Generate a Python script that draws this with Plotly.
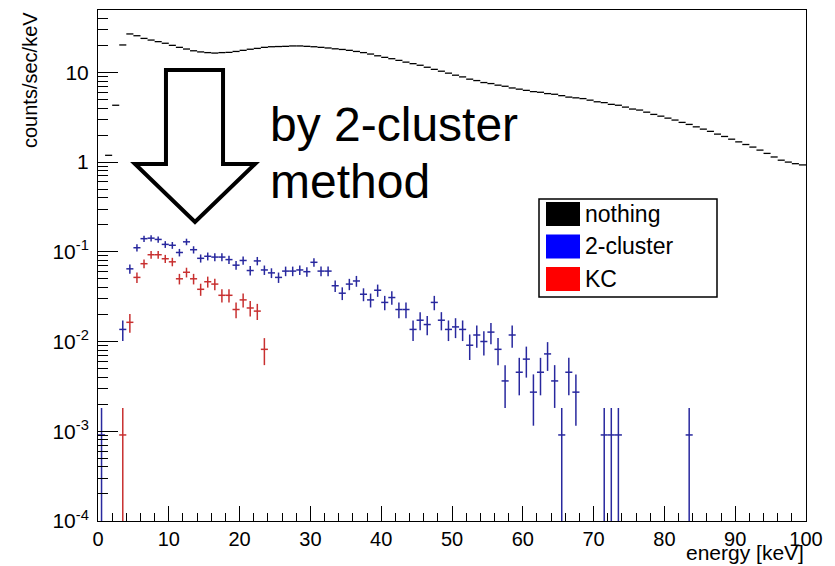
import numpy as np
import plotly.graph_objects as go

# page body has an 8px margin, so the figure is drawn at (8, 8) in the window
OFF = 8
W, H = 827, 558
ML, MR, MT, MB = 90, 29, 2, 45

# 100 bins of 1 keV, 0..100 keV
bin_centers = np.arange(100) + 0.5

# "nothing" spectrum, counts/sec/keV (None = not drawn)
nothing = [None, 1.19, 4.3, 20.2, 26.8, 25.6, 23.9, 22.9, 22.0, 21.1,
           20.0, 19.0, 18.2, 17.4, 16.9, 16.6, 16.4, 16.6, 16.7, 17.1,
           17.6, 18.1, 18.5, 19.0, 19.3, 19.4, 19.5, 19.7, 19.7, 19.5,
           19.3, 19.0, 18.7, 18.3, 18.0, 17.6, 17.1, 16.6, 16.0, 15.3,
           14.7, 14.2, 13.6, 13.0, 12.5, 12.0, 11.4, 10.8, 10.3, 9.8,
           9.3, 8.9, 8.4, 8.1, 7.7, 7.5, 7.2, 7.0, 6.7, 6.5,
           6.3, 6.1, 6.0, 5.8, 5.7, 5.5, 5.3, 5.2, 5.1, 4.9,
           4.7, 4.6, 4.4, 4.3, 4.1, 3.9, 3.8, 3.6, 3.4, 3.25,
           3.09, 2.94, 2.77, 2.63, 2.47, 2.33, 2.20, 2.05, 1.93, 1.80,
           1.68, 1.57, 1.47, 1.36, 1.25, 1.14, 1.05, 1.0, 0.96, 0.93]

# event counts per bin for the selected spectra
counts_2cluster = [1, 0, 0, 15, 71, 122, 154, 156, 151, 133,
                   130, 108, 142, 116, 93, 98, 96, 96, 90, 78,
                   88, 68, 87, 69, 64, 57, 67, 67, 69, 66,
                   84, 67, 67, 46, 38, 48, 52, 37, 32, 41,
                   30, 34, 25, 25, 15, 19, 17, 30, 19, 15,
                   16, 15, 10, 13, 11, 14, 9, 4, 13, 5,
                   7, 3, 5, 8, 4, 1, 5, 3, 0, 0,
                   0, 1, 1, 1, 0, 0, 0, 0, 0, 0,
                   0, 0, 0, 1, 0, 0, 0, 0, 0, 0,
                   0, 0, 0, 0, 0, 0, 0, 0, 0, 0]
counts_kc = [0, 0, 0, 1, 18, 57, 81, 102, 102, 92,
             85, 55, 65, 55, 42, 51, 48, 36, 36, 25,
             32, 26, 24, 9, 0, 0, 0, 0, 0, 0] + [0] * 70

# one count expressed in counts/sec/keV
rate_per_count = 0.00091

x_tickvals = [0, 10, 20, 30, 40, 50, 60, 70, 80, 90, 100]
y_tickvals = [1e-4, 1e-3, 1e-2, 1e-1, 1, 10]
y_ticktext = ["10<sup>-4</sup>", "10<sup>-3</sup>", "10<sup>-2</sup>",
              "10<sup>-1</sup>", "1", "10"]
legend_labels = ["nothing", "2-cluster", "KC"]
legend_colors = ["#000000", "#0000ff", "#ff0000"]

FONT = "Liberation Sans, Arial, sans-serif"
NOMARK = dict(size=2, color="rgba(0,0,0,0)")


# window pixel -> paper fraction
def px(x):
    return (x - OFF - ML) / (W - ML - MR)


def py(y):
    return (H - MB - (y - OFF)) / (H - MT - MB)


def rate_and_error(counts):
    c = np.array(counts, dtype=float)
    val = np.where(c > 0, c * rate_per_count, np.nan)
    err = np.sqrt(c) * rate_per_count
    return val, err


def spectrum(y, err, color):
    return go.Scatter(
        x=bin_centers,
        y=y,
        mode="markers",
        marker=NOMARK,
        error_x=dict(type="constant", value=0.5, width=0, thickness=1.5, color=color),
        error_y=dict(type="data", array=err, width=0, thickness=1.5, color=color),
        hoverinfo="skip",
    )


fig = go.Figure()
fig.add_trace(go.Scatter(
    x=bin_centers,
    y=nothing,
    mode="markers",
    marker=NOMARK,
    error_x=dict(type="constant", value=0.5, width=0, thickness=1.3, color="black"),
    hoverinfo="skip",
))
v2, e2 = rate_and_error(counts_2cluster)
fig.add_trace(spectrum(v2, e2, "#28289e"))
vk, ek = rate_and_error(counts_kc)
fig.add_trace(spectrum(vk, ek, "#c83030"))

minor_y = [m * 10.0 ** e for e in range(-4, 2) for m in range(2, 10) if m * 10.0 ** e < 50]

fig.update_xaxes(
    range=[0, 100], tickvals=x_tickvals, ticks="inside", ticklen=15,
    tickcolor="black", tickwidth=1,
    minor=dict(dtick=2, tick0=0, ticks="inside", ticklen=8, tickcolor="black"),
    showline=True, mirror=True, linecolor="black", linewidth=1,
    showgrid=False, zeroline=False, tickfont=dict(size=20),
    ticklabelstandoff=0,
)
fig.update_yaxes(
    type="log", range=[-4, 1.695], tickvals=y_tickvals, ticktext=y_ticktext,
    ticks="inside", ticklen=20, tickcolor="black", tickwidth=1,
    minor=dict(tickvals=minor_y, ticks="inside", ticklen=10, tickcolor="black"),
    showline=True, mirror=True, linecolor="black", linewidth=1,
    showgrid=False, zeroline=False, tickfont=dict(size=21),
    ticklabelstandoff=4,
)

# big hollow arrow
arrow = [(166, 70), (223, 70), (223, 164), (255, 164), (195, 222), (135, 164), (166, 164)]
path = "M " + " L ".join(f"{px(a):.4f},{py(b):.4f}" for a, b in arrow) + " Z"
shapes = [dict(type="path", xref="paper", yref="paper", path=path,
               line=dict(color="black", width=4), fillcolor="rgba(0,0,0,0)")]

# legend box
shapes.append(dict(type="rect", xref="paper", yref="paper",
                   x0=px(539), x1=px(717), y0=py(297), y1=py(199),
                   line=dict(color="black", width=1.5), fillcolor="white", layer="above"))
annotations = []
for i, (lab, col) in enumerate(zip(legend_labels, legend_colors)):
    top = 202 + i * 32.5
    shapes.append(dict(type="rect", xref="paper", yref="paper",
                       x0=px(546), x1=px(580), y0=py(top + 24), y1=py(top),
                       line=dict(width=0), fillcolor=col, layer="above"))
    annotations.append(dict(xref="paper", yref="paper", x=px(583), y=py(top + 12),
                            xanchor="left", yanchor="middle", showarrow=False,
                            text=lab, font=dict(size=23, family=FONT, color="black")))

annotations += [
    dict(xref="paper", yref="paper", x=px(268), y=py(124), xanchor="left",
         yanchor="middle", showarrow=False, text="by 2-cluster",
         font=dict(size=48, family=FONT, color="black")),
    dict(xref="paper", yref="paper", x=px(268), y=py(181), xanchor="left",
         yanchor="middle", showarrow=False, text="method",
         font=dict(size=48, family=FONT, color="black")),
    dict(xref="paper", yref="paper", x=1.0, y=py(552), xanchor="right",
         yanchor="middle", showarrow=False, text="energy [keV]",
         font=dict(size=21, family=FONT, color="black")),
    dict(xref="paper", yref="paper", x=px(30), y=py(10), xanchor="center",
         yanchor="top", showarrow=False, text="counts/sec/keV", textangle=-90,
         font=dict(size=20, family=FONT, color="black")),
]

fig.update_layout(
    width=W, height=H,
    margin=dict(l=ML, r=MR, t=MT, b=MB),
    plot_bgcolor="white", paper_bgcolor="white",
    showlegend=False,
    font=dict(family=FONT, size=20, color="black"),
    shapes=shapes,
    annotations=annotations,
)

fig.write_html("out.html")
